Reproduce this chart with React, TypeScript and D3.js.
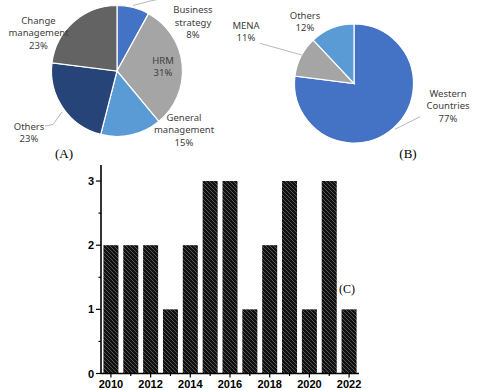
import React from "react";
import * as d3 from "d3";

const pieALabels = ["Business strategy", "HRM", "General management", "Others", "Change management"];
const pieAValues = [8, 31, 15, 23, 23];
const pieAColors = ["#4472C4", "#A5A5A5", "#5B9BD5", "#264478", "#636363"];

const pieBLabels = ["Western Countries", "MENA", "Others"];
const pieBValues = [77, 11, 12];
const pieBColors = ["#4472C4", "#A5A5A5", "#5B9BD5"];

const years = [2010, 2011, 2012, 2013, 2014, 2015, 2016, 2017, 2018, 2019, 2020, 2021, 2022];
const counts = [2, 2, 2, 1, 2, 3, 3, 1, 2, 3, 1, 3, 1];
const yTicks = [0, 1, 2, 3];
const xTickLabels = [2010, 2012, 2014, 2016, 2018, 2020, 2022];

const labelFont = "'Noto Sans', 'Open Sans', sans-serif";
const labelColor = "#404040";

type Lbl = { lines: string[]; x: number; y: number };

const pieALabelPos: Lbl[] = [
  { lines: ["Business", "strategy", "8%"], x: 193, y: 9.5 },
  { lines: ["HRM", "31%"], x: 163, y: 60 },
  { lines: ["General", "management", "15%"], x: 184, y: 117 },
  { lines: ["Others", "23%"], x: 29, y: 126 },
  { lines: ["Change", "management", "23%"], x: 38.5, y: 20 },
];
const pieBLabelPos: Lbl[] = [
  { lines: ["Western", "Countries", "77%"], x: 448, y: 93 },
  { lines: ["MENA", "11%"], x: 246, y: 25 },
  { lines: ["Others", "12%"], x: 305, y: 15 },
];

function Labels({ items }: { items: Lbl[] }) {
  return (
    <g fontFamily={labelFont} fontSize={9.5} fill={labelColor} textAnchor="middle">
      {items.map((it, i) => (
        <text key={i} x={it.x} y={it.y + 3.5}>
          {it.lines.map((l, j) => (
            <tspan key={j} x={it.x} dy={j === 0 ? 0 : 12.6}>
              {l}
            </tspan>
          ))}
        </text>
      ))}
    </g>
  );
}

function Pie({ values, colors, cx, cy, r }: { values: number[]; colors: string[]; cx: number; cy: number; r: number }) {
  const arcs = d3.pie<number>().sort(null).value((d) => d)(values);
  const arc = d3.arc<d3.PieArcDatum<number>>().innerRadius(0).outerRadius(r);
  return (
    <g transform={`translate(${cx},${cy})`}>
      {arcs.map((a, i) => (
        <path key={i} d={arc(a) || ""} fill={colors[i]} stroke="#fff" strokeWidth={1.2} />
      ))}
    </g>
  );
}

export default function App() {
  const x = d3
    .scaleBand<number>()
    .domain(years)
    .range([101, 359])
    .paddingInner(0.244)
    .paddingOuter(0.122);
  const y = d3.scaleLinear().domain([0, 3.25]).range([373.5, 165]);
  const minorTicks = [0.5, 1.5, 2.5];
  const axisFont = "'Liberation Sans', Arial, sans-serif";

  return (
    <svg
      width={477}
      height={390}
      style={{ position: "absolute", left: 0, top: 0, background: "#fff" }}
    >
      <defs>
        <pattern id="hatch" patternUnits="userSpaceOnUse" width={4} height={4}>
          <rect width={4} height={4} fill="#111" />
          <path d="M-1,-1 L5,5 M3,-1 L5,1 M-1,3 L1,5" stroke="#8c8c8c" strokeWidth={0.55} />
        </pattern>
      </defs>

      {/* Pie A */}
      <Pie values={pieAValues} colors={pieAColors} cx={117} cy={71} r={65.5} />
      <g stroke="#A6A6A6" strokeWidth={0.8} fill="none">
        <polyline points="133,5.5 150,1 160,-1" />
        <polyline points="45,126 53,124.5 62,112" />
      </g>
      <Labels items={pieALabelPos} />
      <text x={64} y={158} fontFamily="'Liberation Serif', 'Times New Roman', serif" fontSize={13} textAnchor="middle" fill="#000">
        (A)
      </text>

      {/* Pie B */}
      <Pie values={pieBValues} colors={pieBColors} cx={354} cy={83.5} r={59.5} />
      <g stroke="#A6A6A6" strokeWidth={0.8} fill="none">
        <polyline points="260,43.3 301.7,55" />
        <polyline points="420,116.7 395,129.3" />
      </g>
      <Labels items={pieBLabelPos} />
      <text x={408} y={158} fontFamily="'Liberation Serif', 'Times New Roman', serif" fontSize={13} textAnchor="middle" fill="#000">
        (B)
      </text>

      {/* Bar chart */}
      <g>
        {years.map((yr, i) => (
          <rect
            key={yr}
            x={x(yr)!}
            y={y(counts[i])}
            width={x.bandwidth()}
            height={y(0) - y(counts[i])}
            fill="url(#hatch)"
          />
        ))}
      </g>
      <g stroke="#000" fill="none">
        <line x1={101} y1={y(0)} x2={359} y2={y(0)} strokeWidth={1.6} />
        <line x1={101} y1={165} x2={101} y2={y(0)} strokeWidth={1.6} />
        {yTicks.map((t) => (
          <line key={t} x1={96} x2={101} y1={y(t)} y2={y(t)} strokeWidth={1.2} />
        ))}
        {minorTicks.map((t) => (
          <line key={t} x1={98.5} x2={101} y1={y(t)} y2={y(t)} strokeWidth={1.2} />
        ))}
        {years.map((yr) => (
          <line
            key={yr}
            x1={x(yr)! + x.bandwidth() / 2}
            x2={x(yr)! + x.bandwidth() / 2}
            y1={y(0)}
            y2={y(0) + (xTickLabels.includes(yr) ? 4 : 2.5)}
            strokeWidth={1.2}
          />
        ))}
      </g>
      <g fontFamily={axisFont} fontWeight="bold" fontSize={11} fill="#000">
        {yTicks.map((t) => (
          <text key={t} x={94} y={y(t) + 4} textAnchor="end">
            {t}
          </text>
        ))}
        {xTickLabels.map((yr) => (
          <text key={yr} x={x(yr)! + x.bandwidth() / 2} y={388} textAnchor="middle">
            {yr}
          </text>
        ))}
      </g>
      <text x={347} y={293} fontFamily="'Liberation Serif', 'Times New Roman', serif" fontSize={12} textAnchor="middle" fill="#000">
        (C)
      </text>
    </svg>
  );
}
